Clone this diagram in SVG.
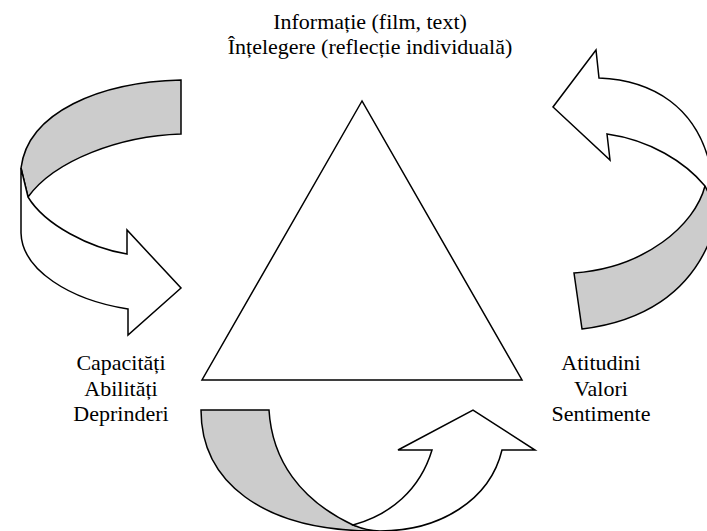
<svg xmlns="http://www.w3.org/2000/svg" width="707" height="531" viewBox="0 0 707 531">
<style>
.ln{stroke:#000;stroke-width:1.5;stroke-linejoin:miter}
.g{fill:#cccccc}
.w{fill:#ffffff}
text{font-family:"Liberation Serif","Times New Roman",serif;font-size:22px;fill:#000;text-anchor:middle}
</style>
<rect width="707" height="531" fill="#fff"/>
<g id="connectors">
<g id="arrow-left">
<path class="ln g" d="M181,80 C100,82 28,112 21,168 L28,197 C55,160 120,136 181,134 Z"/>
<path class="ln w" d="M21,168 L21,233 C22,270 70,300 128,309 L128,335 L181,288 L127,230 L127,254 C90,248 45,225 28,197 Z"/>
</g>
<g id="arrow-right">
<path class="ln g" d="M705,186 C695,225 645,268 574,273 L582,329 C640,322 690,295 712,235 L712,186 Z"/>
<path class="ln w" d="M599,78 C650,80 700,105 712,175 L712,200 L705,186 C685,162 650,140 607,134 L610,160 L553,107 L596,50 Z"/>
</g>
<g id="arrow-bottom">
<path class="ln g" d="M201,410 L269,410 C272,460 300,500 353,525 L375,531 C260,531 201,480 201,410 Z"/>
<path class="ln w" d="M353,525 C390,515 420,490 432,450 L398,450 L473,410 L535,450 L502,450 C490,500 440,531 380,531 C370,531 360,528 353,525 Z"/>
</g>
</g>
<g id="triangle">
<polygon class="ln" fill="#fff" points="362,101 202,380 522,380"/>
</g>
<g id="label-top">
<text x="370" y="29">Informație (film, text)</text>
<text x="370" y="54">Înțelegere (reflecție individuală)</text>
</g>
<g id="label-left">
<text x="121" y="370">Capacități</text>
<text x="121" y="396">Abilități</text>
<text x="121" y="421">Deprinderi</text>
</g>
<g id="label-right">
<text x="601" y="370">Atitudini</text>
<text x="601" y="396">Valori</text>
<text x="601" y="421">Sentimente</text>
</g>
</svg>
